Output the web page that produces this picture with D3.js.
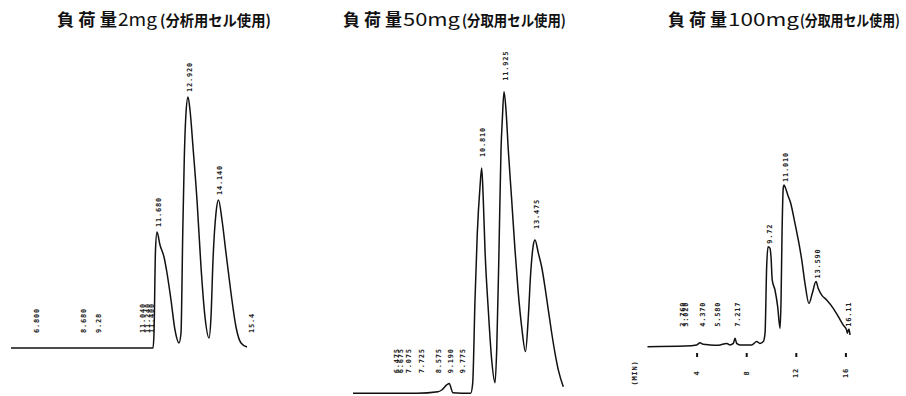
<!DOCTYPE html>
<html>
<head>
<meta charset="utf-8">
<script src="https://cdn.jsdelivr.net/npm/d3@7/dist/d3.min.js"></script>
<style>
  html, body { margin: 0; padding: 0; background: #fff; }
  svg { display: block; }
</style>
</head>
<body>
<svg id="chart" width="906" height="396"></svg>
<script>
// Chromatograms of the same sample at three column loads.
// Time in minutes, detector signal in relative units.

const titleHead = "負荷量";
const titleLoad = ["2mg", "50mg", "100mg"];
const titleCell = ["(分析用セル使用)", "(分取用セル使用)", "(分取用セル使用)"];

// 2 mg load, analytical cell
const p1Time = [5.84, 6.80, 11.52, 11.56, 11.62, 11.68, 11.80, 11.96, 12.08, 12.24,
                12.40, 12.56, 12.64, 12.71, 12.77, 12.84, 12.92, 13.00, 13.12, 13.28,
                13.44, 13.60, 13.76, 13.84, 13.92, 14.04, 14.14, 14.28, 14.44, 14.64,
                14.84, 15.04, 15.28];
const p1Signal = [0, 0, 0, 6.0, 39.2, 46.4, 41.2, 36.4, 30.0, 19.2,
                  7.2, 2.0, 6.0, 46.0, 75.2, 94.0, 100.4, 95.2, 80.4, 59.2,
                  32.4, 12.4, 4.0, 12.4, 35.2, 54.0, 59.2, 51.2, 38.0, 22.0,
                  8.4, 2.0, 0.4];
const p1Labels = ["6.800", "8.680", "9.28", "11.040", "11.240", "11.400",
                  "11.680", "12.920", "14.140", "15.4"];

// 50 mg load, preparative cell
const p2Time = [4.375, 7.575, 8.625, 8.81, 9.06, 9.19, 9.275, 9.36, 10.26, 10.36,
                10.475, 10.59, 10.725, 10.81, 10.89, 10.975, 11.14, 11.31, 11.475, 11.56,
                11.675, 11.775, 11.84, 11.925, 12.025, 12.14, 12.31, 12.475, 12.64, 12.81,
                13.0, 13.14, 13.26, 13.39, 13.475, 13.64, 13.81, 13.975, 14.14, 14.31,
                14.475, 14.64, 14.89];
const p2Signal = [0, 0, 0.5, 1.1, 2.8, 3.3, 1.8, 0.2, 0, 3.4,
                  31.1, 53.4, 68.8, 75.1, 64.4, 47.8, 27.8, 11.1, 3.5, 14.4,
                  47.8, 81.1, 91.1, 100.5, 94.4, 81.1, 64.4, 47.8, 33.4, 22.1,
                  13.9, 25.4, 40.1, 49.4, 51.1, 46.8, 42.1, 35.4, 27.8, 20.1,
                  13.4, 7.8, 2.2];
const p2Labels = ["6.475", "6.675", "7.075", "7.725", "8.575", "9.190", "9.775",
                  "10.810", "11.925", "13.475"];

// 100 mg load, preparative cell
const p3Time = [0, 3.02, 3.97, 4.23, 4.50, 5.04, 5.71, 6.39, 6.65, 6.92,
                7.06, 7.19, 7.46, 8.40, 8.81, 9.07, 9.34, 9.48, 9.61, 9.72,
                9.88, 9.96, 10.06, 10.28, 10.50, 10.69, 10.77, 10.85, 10.95, 11.01,
                11.09, 11.31, 11.55, 11.84, 12.16, 12.44, 12.70, 13.02, 13.29, 13.59,
                13.77, 14.05, 14.45, 14.98, 15.39, 15.79, 16.06, 16.11, 16.25, 16.33];
const p3Signal = [0, 0.2, 0.6, 1.3, 0.8, 0.6, 0.5, 1.1, 0.6, 1.1,
                  2.8, 1.1, 0.6, 0.6, 1.7, 1.1, 1.7, 4.6, 26.7, 33.3,
                  32.8, 30.0, 22.2, 18.9, 13.3, 6.1, 15.6, 37.9, 53.0, 53.9,
                  53.3, 50.6, 47.8, 42.2, 35.6, 28.9, 21.1, 14.4, 17.8, 21.7,
                  19.4, 17.2, 15.6, 12.8, 10.0, 7.2, 5.6, 4.5, 5.9, 3.9];
const p3Labels = ["2.760", "3.020", "4.370", "5.580", "7.217",
                  "9.72", "11.010", "13.590", "16.11"];
const p3AxisTicks = [4, 8, 12, 16];
const p3AxisName = "(MIN)";

const svg = d3.select("#chart");

const panels = [
  { time: p1Time, signal: p1Signal, labels: p1Labels,
    x: d3.scaleLinear().domain([6, 16]).range([15, 265]),
    y: d3.scaleLinear().domain([0, 100]).range([348, 98]),
    peakGap: 5, rowGap: 15,
    title: { head: [57, 117], load: [118, 157], cell: [160, 271] } },
  { time: p2Time, signal: p2Signal, labels: p2Labels,
    x: d3.scaleLinear().domain([4, 15]).range([345.5, 565.5]),
    y: d3.scaleLinear().domain([0, 100]).range([393.3, 93.3]),
    peakGap: 11, rowGap: 20,
    title: { head: [343, 402], load: [403, 460], cell: [462, 566] } },
  { time: p3Time, signal: p3Signal, labels: p3Labels,
    x: d3.scaleLinear().domain([0, 16]).range([647.5, 845.9]),
    y: d3.scaleLinear().domain([0, 100]).range([346.7, 46.7]),
    peakGap: 3, rowGap: 20,
    title: { head: [668, 727], load: [728, 799], cell: [800, 900] } }
];

// linear read-out of the trace at a given time
function signalAt(p, t) {
  const i = d3.bisectLeft(p.time, t);
  if (i <= 0) return p.signal[0];
  if (i >= p.time.length) return 0;
  const t0 = p.time[i - 1], t1 = p.time[i];
  const f = (t - t0) / (t1 - t0);
  return p.signal[i - 1] + f * (p.signal[i] - p.signal[i - 1]);
}

// place a text so that it spans [x0, x1] by squeezing it horizontally
function fitText(sel, span) {
  const w = sel.node().getComputedTextLength();
  const k = (span[1] - span[0]) / w;
  sel.attr("transform", `translate(${span[0]},26) scale(${k},1)`);
}

panels.forEach((p, k) => {
  const g = svg.append("g");

  // title
  const tg = g.append("g").attr("fill", "#111");
  tg.append("text")
    .attr("font-family", "'Noto Sans CJK JP'")
    .attr("font-weight", 700).attr("font-size", 17)
    .attr("letter-spacing", 4)
    .text(titleHead)
    .call(fitText, [p.title.head[0], p.title.head[1] + 4]);
  tg.append("text")
    .attr("font-family", "'Noto Sans CJK JP'")
    .attr("font-weight", 400).attr("font-size", 18)
    .text(titleLoad[k])
    .call(fitText, p.title.load);
  tg.append("text")
    .attr("font-family", "'Noto Sans CJK JP'")
    .attr("font-weight", 700).attr("font-size", 15)
    .text(titleCell[k])
    .call(fitText, p.title.cell);

  // trace
  const pts = p.time.map((t, i) => [t, p.signal[i]]);
  const line = d3.line()
    .x(d => p.x(d[0]))
    .y(d => p.y(d[1]))
    .curve(d3.curveMonotoneX);
  g.append("path")
    .datum(pts)
    .attr("d", line)
    .attr("fill", "none")
    .attr("stroke", "#111")
    .attr("stroke-width", 1.5)
    .attr("stroke-linejoin", "round");

  // retention time labels, printed sideways
  g.selectAll("text.rt")
    .data(p.labels)
    .join("text")
    .attr("class", "rt")
    .attr("transform", d => {
      const t = +d;
      const s = signalAt(p, t);
      const yb = s < 6 ? p.y(0) - p.rowGap : p.y(s) - p.peakGap;
      return `translate(${p.x(t) + 1.5},${yb}) rotate(-90)`;
    })
    .attr("dominant-baseline", "central")
    .attr("font-family", "'DejaVu Sans Mono'")
    .attr("font-weight", 700)
    .attr("font-size", 7)
    .attr("letter-spacing", 0.8)
    .attr("fill", "#222")
    .text(d => d);
});

// time axis under the 100 mg trace
const p3 = panels[2];
const axisG = svg.append("g");
axisG.selectAll("line.tick")
  .data(p3AxisTicks)
  .join("line")
  .attr("class", "tick")
  .attr("x1", d => p3.x(d)).attr("x2", d => p3.x(d))
  .attr("y1", 353).attr("y2", 357)
  .attr("stroke", "#111").attr("stroke-width", 2);
axisG.selectAll("text.ticklabel")
  .data(p3AxisTicks)
  .join("text")
  .attr("class", "ticklabel")
  .attr("transform", d => `translate(${p3.x(d)},373) rotate(-90)`)
  .attr("text-anchor", "middle")
  .attr("dominant-baseline", "central")
  .attr("font-family", "'DejaVu Sans Mono'")
  .attr("font-weight", 700)
  .attr("font-size", 7)
  .attr("letter-spacing", 0.8)
  .attr("fill", "#222")
  .text(d => d);
axisG.append("text")
  .attr("transform", "translate(635,373) rotate(-90)")
  .attr("text-anchor", "middle")
  .attr("dominant-baseline", "central")
  .attr("font-family", "'DejaVu Sans Mono'")
  .attr("font-weight", 700)
  .attr("font-size", 7)
  .attr("letter-spacing", 0.8)
  .attr("fill", "#222")
  .text(p3AxisName);
</script>
</body>
</html>
